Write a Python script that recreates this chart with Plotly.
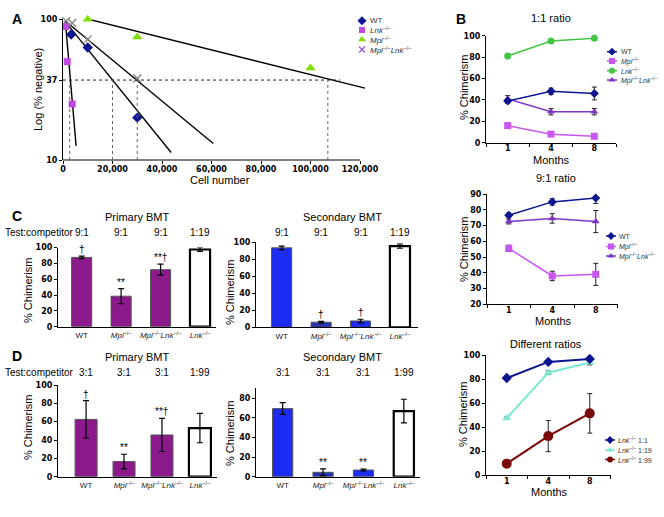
import plotly.graph_objects as go

W, H = 664, 517


def fx(p):
    return p / W


def fy(p):
    return 1 - p / H


# ---------------- data ----------------
# Panel A: limiting dilution (log % negative vs cell number)
a_wt_x = [3300, 10000, 30000]
a_wt_y = [78, 63, 20]
a_lnk_x = [1000, 1700, 3700]
a_lnk_y = [89, 50, 25]
a_mpl_x = [10000, 30000, 100000]
a_mpl_y = [100, 75, 45]
a_dko_x = [1300, 3700, 10000, 30000]
a_dko_y = [97, 94, 72, 38]
fit_lnk_x, fit_lnk_y = [930, 5300], [97.8, 12.6]
fit_wt_x, fit_wt_y = [930, 43700], [96.3, 11.3]
fit_dko_x, fit_dko_y = [1300, 60700], [96, 13.1]
fit_mpl_x, fit_mpl_y = [10400, 122000], [100, 32.4]
a_ref_pct = 37
a_ref_cells = [2700, 20000, 30000, 107000]
a_ref_hline_end = 112000
a_xticks = [0, 20000, 40000, 60000, 80000, 100000, 120000]
a_xticklabels = ["0", "20,000", "40,000", "60,000", "80,000", "100,000", "120,000"]
a_yticks = [10, 37, 100]

# Panel B
months = ["1", "4", "8"]
b1_wt, b1_wt_err = [39, 48, 46], [2, 3, 6]
b1_mpl, b1_mpl_err = [16, 8, 6], [1, 1.5, 1]
b1_lnk, b1_lnk_err = [81, 95, 97.5], [1, 1, 1]
b1_dko, b1_dko_err = [41, 29, 29], [3, 3, 3]
b2_wt, b2_wt_err = [76.5, 85, 87.5], [1.5, 2, 3.5]
b2_mpl, b2_mpl_err = [55.5, 38, 39], [2, 3, 7]
b2_dko, b2_dko_err = [72.5, 74.5, 72.5], [1.5, 3, 7]
b3_r1, b3_r1_err = [81, 94.5, 97], [1, 1, 1]
b3_r19, b3_r19_err = [47.5, 85.5, 94], [1, 1.5, 2]
b3_r99, b3_r99_err = [9.5, 32.5, 51.5], [1.5, 13, 16.5]

# Panels C and D
genotypes = ["WT", "Mpl", "MplLnk", "Lnk"]
genotype_labels = ["WT", "<i>Mpl</i><sup>–/–</sup>",
                   "<i>Mpl</i><sup>–/–</sup><i>Lnk</i><sup>–/–</sup>",
                   "<i>Lnk</i><sup>–/–</sup>"]
c_pri, c_pri_err = [87.5, 38.5, 72, 97.5], [1.5, 9.5, 7, 2.5]
c_sec, c_sec_err = [93.5, 6, 7.5, 95.5], [2, 1, 2, 2.5]
c_ratio = ["9:1", "9:1", "9:1", "1:19"]
c_pri_sig = ["†", "**", "**†", ""]
c_sec_sig = ["", "†", "†", ""]
d_pri, d_pri_err = [62.5, 16.5, 45.5, 53], [20.5, 8, 18, 16]
d_sec, d_sec_err = [69.5, 4.5, 6.8, 67], [6, 3.5, 1, 12]
d_ratio = ["3:1", "3:1", "3:1", "1:99"]
d_pri_sig = ["†", "**", "**†", ""]
d_sec_sig = ["", "**", "**", ""]

# ---------------- styles ----------------
TXT = "Liberation Sans, Arial, sans-serif"
NUM = dict(family="DejaVu Sans, Verdana, sans-serif", size=8, color="black", weight="bold")
C_WT = "#0d1590"
C_MPL_A = "#7fe000"
C_LNK_A = "#c246e8"
C_DKO_A = "#9a58e0"
C_MPL_B = "#c955f2"
C_LNK_B = "#45c445"
C_DKO_B = "#7b36c8"
C_R19 = "#7ee8d2"
C_R99 = "#7a0a0a"
PURPLE = "#8c1a8c"
BLUE = "#1c2cf2"
BLUE_D = "#2535b0"

fig = go.Figure()
annotations = []
shapes = []


def note(text, x, y, size=11, angle=0, xanchor="center", yanchor="middle", bold=False):
    annotations.append(dict(text=text, x=fx(x), y=fy(y), xref="paper", yref="paper",
                            xanchor=xanchor, yanchor=yanchor, showarrow=False,
                            textangle=angle,
                            font=dict(size=size, family=TXT, color="black",
                                      weight="bold" if bold else "normal")))


def base_axis(domain, **kw):
    d = dict(domain=domain, showgrid=False, zeroline=False, showline=True, automargin=False,
             linecolor="black", linewidth=1.2, ticks="outside", ticklen=3,
             tickcolor="black", tickwidth=1.2, tickfont=NUM)
    d.update(kw)
    return d


layout = dict(template="none", width=W, height=H, margin=dict(l=0, r=0, t=0, b=0, pad=0),
              paper_bgcolor="white", plot_bgcolor="rgba(0,0,0,0)", showlegend=False,
              font=dict(family=TXT, color="black", size=11))

# ---------------- Panel A ----------------
a_scale = (360 - 63) / 120000
layout["xaxis"] = base_axis([fx(63), fx(63 + 123000 * a_scale)], range=[0, 123000],
                            showline=False, tickvals=a_xticks, ticktext=a_xticklabels,
                            anchor="y", ticklabelstandoff=-2)
layout["yaxis"] = base_axis([fy(160), fy(19.3)], type="log", range=[1, 2],
                            tickvals=a_yticks, ticktext=[str(v) for v in a_yticks],
                            anchor="x")
shapes.append(dict(type="line", xref="x", yref="y domain", x0=0, x1=120000, y0=0, y1=0,
                   line=dict(color="black", width=1.2)))
shapes.append(dict(type="line", xref="x", yref="y", x0=0, x1=a_ref_hline_end,
                   y0=a_ref_pct, y1=a_ref_pct, line=dict(color="#222", width=1, dash="dot")))
for cx in a_ref_cells:
    shapes.append(dict(type="line", xref="x", yref="y", x0=cx, x1=cx, y0=10, y1=a_ref_pct,
                       line=dict(color="#666", width=1, dash="dot")))
for fxs, fys in [(fit_lnk_x, fit_lnk_y), (fit_wt_x, fit_wt_y),
                 (fit_dko_x, fit_dko_y), (fit_mpl_x, fit_mpl_y)]:
    fig.add_trace(go.Scatter(x=fxs, y=fys, mode="lines", xaxis="x", yaxis="y",
                             line=dict(color="black", width=1.4)))
fig.add_trace(go.Scatter(x=a_wt_x, y=a_wt_y, mode="markers", cliponaxis=False,
                         marker=dict(symbol="diamond", size=8, color=C_WT)))
fig.add_trace(go.Scatter(x=a_lnk_x, y=a_lnk_y, mode="markers", cliponaxis=False,
                         marker=dict(symbol="square", size=7, color=C_LNK_A)))
fig.add_trace(go.Scatter(x=a_mpl_x, y=a_mpl_y, mode="markers", cliponaxis=False,
                         marker=dict(symbol="triangle-up", size=9, color=C_MPL_A)))
fig.add_trace(go.Scatter(x=a_dko_x, y=a_dko_y, mode="markers", cliponaxis=False,
                         marker=dict(symbol="x-thin-open", size=8,
                                     line=dict(color=C_DKO_A, width=1.3))))
note("A", 17, 19, size=14, bold=True)
note("Log (% negative)", 38, 90, angle=-90)
note("Cell number", 220, 180)


# ---------------- Panel B ----------------
def b_xaxis(domain, anchor):
    return base_axis(domain, type="category", range=[-0.5, 2.5], anchor=anchor,
                     tickson="boundaries", ticklen=3, ticklabelstandoff=-2)


layout["xaxis2"] = b_xaxis([fx(486), fx(616)], "y2")
layout["yaxis2"] = base_axis([fy(142.7), fy(35.7)], range=[0, 100], dtick=20, anchor="x2")
layout["xaxis3"] = b_xaxis([fx(487), fx(617.5)], "y3")
layout["yaxis3"] = base_axis([fy(304.3), fy(194)], range=[20, 90], dtick=10, anchor="x3")
layout["xaxis4"] = b_xaxis([fx(486), fx(610.5)], "y4")
layout["yaxis4"] = base_axis([fy(475), fy(355.3)], range=[0, 100], dtick=20, anchor="x4")


def b_line(vals, errs, color, symbol, xa, ya, size=7, lw=1.5):
    fig.add_trace(go.Scatter(
        x=months, y=vals, xaxis=xa, yaxis=ya, mode="lines+markers", cliponaxis=False,
        line=dict(color=color, width=lw),
        marker=dict(symbol=symbol, size=size, color=color),
        error_y=dict(type="data", array=errs, color="#222", thickness=1, width=2.5)))


b_line(b1_mpl, b1_mpl_err, C_MPL_B, "square", "x2", "y2")
b_line(b1_lnk, b1_lnk_err, C_LNK_B, "circle", "x2", "y2")
b_line(b1_dko, b1_dko_err, C_DKO_B, "triangle-up", "x2", "y2")
b_line(b1_wt, b1_wt_err, C_WT, "diamond", "x2", "y2")
b_line(b2_mpl, b2_mpl_err, C_MPL_B, "square", "x3", "y3")
b_line(b2_dko, b2_dko_err, C_DKO_B, "triangle-up", "x3", "y3")
b_line(b2_wt, b2_wt_err, C_WT, "diamond", "x3", "y3")
b_line(b3_r99, b3_r99_err, C_R99, "circle", "x4", "y4", size=10, lw=2.2)
b_line(b3_r19, b3_r19_err, C_R19, "triangle-up", "x4", "y4", size=8, lw=2)
b_line(b3_r1, b3_r1_err, C_WT, "diamond", "x4", "y4", size=8, lw=2)


def sig(text, x, y, xa, ya, xanchor="center", yanchor="bottom", size=10, xshift=0, yshift=0):
    annotations.append(dict(text=text, x=x, y=y, xref=xa, yref=ya, showarrow=False,
                            xanchor=xanchor, yanchor=yanchor, xshift=xshift, yshift=yshift,
                            font=dict(size=size, family=TXT, color="black")))


for i in (1, 2):
    sig("*", months[i], b1_wt[i] + b1_wt_err[i], "x2", "y2", yshift=-2)
    sig("*", months[i], b2_wt[i] + b2_wt_err[i], "x3", "y3", yshift=-2)
sig("#", months[2], b1_lnk[2] + b1_lnk_err[2], "x2", "y2", size=8)
sig("#", months[2], b1_mpl[2] + b1_mpl_err[2], "x2", "y2", size=8)
sig("#", months[2], b3_r1[2] + b3_r1_err[2], "x4", "y4", size=8, yshift=-1)
sig("#", months[2], b3_r19[2] - b3_r19_err[2], "x4", "y4", size=8, yanchor="top", yshift=-1)
sig("**", months[2], b3_r99[2] + 5, "x4", "y4", xanchor="right", yanchor="middle", xshift=-2)

note("1:1 ratio", 551, 18)
note("9:1 ratio", 556, 178)
note("Different ratios", 546, 344)
note("Months", 551, 160)
note("Months", 553, 321)
note("Months", 549, 492)
note("% Chimerism", 464, 88, angle=-90)
note("% Chimerism", 464, 250, angle=-90)
note("% Chimerism", 463, 415, angle=-90)
note("B", 461, 19, size=14, bold=True)


# ---------------- Panels C & D (bars) ----------------
def bar_xaxis(domain, rng, anchor):
    return base_axis(domain, type="category", range=rng, anchor=anchor, ticks="",
                     tickvals=genotypes, ticktext=genotype_labels, ticklabelstandoff=1,
                     tickfont=dict(family=TXT, size=8, color="#222"))


layout["xaxis5"] = bar_xaxis([fx(58), fx(215.8)], [-0.6, 3.4], "y5")
layout["yaxis5"] = base_axis([fy(326.7), fy(247.5)], range=[0, 100], dtick=20, anchor="x5")
layout["xaxis6"] = bar_xaxis([fx(256), fx(417.7)], [-0.65, 3.45], "y6")
layout["yaxis6"] = base_axis([fy(327.3), fy(242.3)], range=[0, 100], dtick=20, anchor="x6")
layout["xaxis7"] = bar_xaxis([fx(58), fx(217)], [-0.74, 3.45], "y7")
layout["yaxis7"] = base_axis([fy(476.7), fy(385)], range=[0, 100], dtick=20, anchor="x7")
layout["xaxis8"] = bar_xaxis([fx(256), fx(420)], [-0.66, 3.4], "y8")
layout["yaxis8"] = base_axis([fy(476.7), fy(388)], range=[0, 90.5], dtick=20, anchor="x8")


def bars(vals, errs, colors, xa, ya, width):
    fig.add_trace(go.Bar(
        x=genotypes, y=vals, xaxis=xa, yaxis=ya, width=width,
        marker=dict(color=colors,
                    line=dict(color=["#555", "#555", "#555", "black"], width=[1, 1, 1, 2.2])),
        error_y=dict(type="data", array=errs, color="black", thickness=1.2, width=3)))


bars(c_pri, c_pri_err, [PURPLE, PURPLE, PURPLE, "white"], "x5", "y5", 0.51)
bars(c_sec, c_sec_err, [BLUE, BLUE_D, BLUE, "white"], "x6", "y6", 0.51)
bars(d_pri, d_pri_err, [PURPLE, PURPLE, PURPLE, "white"], "x7", "y7", 0.58)
bars(d_sec, d_sec_err, [BLUE, BLUE_D, BLUE, "white"], "x8", "y8", 0.5)

for vals, errs, sigs, xa, ya in [(c_pri, c_pri_err, c_pri_sig, "x5", "y5"),
                                 (c_sec, c_sec_err, c_sec_sig, "x6", "y6"),
                                 (d_pri, d_pri_err, d_pri_sig, "x7", "y7"),
                                 (d_sec, d_sec_err, d_sec_sig, "x8", "y8")]:
    for g, v, e, s in zip(genotypes, vals, errs, sigs):
        if s:
            sig(s, g, v + e, xa, ya, size=10, yshift=-1)

# headers
for letter, ytop, ratios in [("C", 216, c_ratio), ("D", 356, d_ratio)]:
    note(letter, 17, ytop, size=14, bold=True)
    note("Primary BMT", 137, ytop + 1)
    note("Secondary BMT", 342, ytop + 1)
    note("Test:competitor", 3, ytop + 16, size=10, xanchor="left")
    xa_p, xa_s = ("x5", "x6") if letter == "C" else ("x7", "x8")
    for xa in (xa_p, xa_s):
        for g, r in zip(genotypes, ratios):
            annotations.append(dict(text=r, x=g, xref=xa, y=fy(ytop + 16), yref="paper",
                                    xanchor="center", yanchor="middle",
                                    showarrow=False, font=dict(size=10)))

note("% Chimerism", 28, 290, angle=-90)
note("% Chimerism", 230, 292, angle=-90)
note("% Chimerism", 28, 427, angle=-90)
note("% Chimerism", 230, 433, angle=-90)

# ---------------- manual legends (overlay pixel axis) ----------------
layout["xaxis9"] = dict(domain=[0, 1], range=[0, W], visible=False, anchor="y9",
                        fixedrange=True, automargin=False)
layout["yaxis9"] = dict(domain=[0, 1], range=[H, 0], visible=False, anchor="x9",
                        fixedrange=True, automargin=False)

WT_T = "WT"
MPL_T = "<i>Mpl</i><sup>–/–</sup>"
LNK_T = "<i>Lnk</i><sup>–/–</sup>"
DKO_T = "<i>Mpl</i><sup>–/–</sup><i>Lnk</i><sup>–/–</sup>"


def legend_item(x_sym, x_txt, y, label, color, symbol, size, with_line=False, lw=1.5,
                open_sym=False, fsize=7.5):
    if with_line:
        fig.add_trace(go.Scatter(x=[x_sym - 5, x_sym + 5], y=[y, y], xaxis="x9", yaxis="y9",
                                 mode="lines", line=dict(color=color, width=lw)))
    mk = dict(symbol=symbol, size=size, color=color)
    if open_sym:
        mk["line"] = dict(color=color, width=1.3)
    fig.add_trace(go.Scatter(x=[x_sym], y=[y], xaxis="x9", yaxis="y9", mode="markers",
                             marker=mk))
    annotations.append(dict(text=label, x=x_txt, y=y, xref="x9", yref="y9", xanchor="left",
                            yanchor="middle", showarrow=False,
                            font=dict(size=fsize, color="#333", family=TXT)))


legend_item(362, 368, 20.7, WT_T, C_WT, "diamond", 7, fsize=8)
legend_item(362, 368, 30, LNK_T, C_LNK_A, "square", 6, fsize=8)
legend_item(362, 368, 39.5, MPL_T, C_MPL_A, "triangle-up", 7, fsize=8)
legend_item(362, 368, 49.5, DKO_T, C_DKO_A, "x-thin-open", 6, open_sym=True, fsize=8)

legend_item(612, 619, 51.7, WT_T, C_WT, "diamond", 6, True, fsize=7)
legend_item(612, 619, 61, MPL_T, C_MPL_B, "square", 6, True, fsize=7)
legend_item(612, 619, 70.7, LNK_T, C_LNK_B, "circle", 6, True, fsize=7)
legend_item(612, 619, 80, DKO_T, C_DKO_B, "triangle-up", 6, True, fsize=7)

legend_item(611, 617, 236, WT_T, C_WT, "diamond", 6, True, fsize=7)
legend_item(611, 617, 246.5, MPL_T, C_MPL_B, "square", 6, True, fsize=7)
legend_item(611, 617, 256, DKO_T, C_DKO_B, "triangle-up", 6, True, fsize=7)

legend_item(610, 616, 440, LNK_T + " 1:1", C_WT, "diamond", 6, True, fsize=7)
legend_item(610, 616, 450, LNK_T + " 1:19", C_R19, "triangle-up", 6, True, fsize=7)
legend_item(610, 616, 459.5, LNK_T + " 1:99", C_R99, "circle", 6, True, fsize=7)

layout["annotations"] = annotations
layout["shapes"] = shapes
fig.update_layout(**layout)
fig.write_html("out.html", config={"displayModeBar": False},
               post_script="document.body.style.margin='0px';document.body.style.padding='0px';")
